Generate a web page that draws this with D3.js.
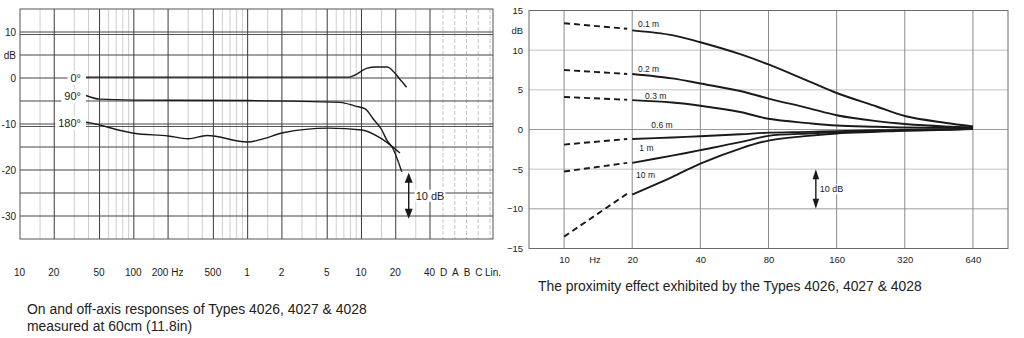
<!DOCTYPE html>
<html><head><meta charset="utf-8">
<script src="https://cdn.jsdelivr.net/npm/d3@7"></script>
<style>
body{margin:0;background:#fff}
svg{font-family:"Liberation Sans",Arial,Helvetica,sans-serif;display:block}
</style>
</head><body>
<svg id="c" width="1024" height="338"></svg>
<script>
// ---------- LEFT CHART DATA ----------
const leftFreqTicks = [10, 20, 50, 100, 200, 500, 1000, 2000, 5000, 10000, 20000, 40000];
const leftFreqLabels = ["10", "20", "50", "100", "200 Hz", "500", "1", "2", "5", "10", "20", "40"];
const leftExtraLabels = ["D", "A", "B", "C", "Lin."];
const leftMajorGrid = [20, 50, 100, 200, 500, 1000, 2000, 5000, 10000, 20000, 40000];
const leftMinorGrid = [15, 30, 40, 60, 70, 80, 90, 150, 300, 400, 600, 700, 800, 900,
                       1500, 3000, 4000, 6000, 7000, 8000, 9000, 15000, 30000];
const leftDbTicks = [10, 5, 0, -10, -20, -30];
const leftDbGrid = [10, 5, 0, -5, -10, -15, -20, -25, -30];
const leftDoubleGrid = [10, -10];

const resp0Freq = [38, 1000, 7800, 8700, 10000, 11100, 13400, 16900, 18600, 21500, 24900];
const resp0Db   = [0.2, 0.2, 0.2, 0.6, 1.5, 2.1, 2.4, 2.4, 1.7, -0.1, -2.0];
const resp90Freq = [38, 50, 100, 1000, 6500, 8800, 10800, 12600, 15100, 16700, 18600, 22600];
const resp90Db   = [-3.8, -4.6, -4.8, -4.9, -5.3, -6.1, -6.7, -8.8, -11.3, -13.5, -15.0, -20.4];
const resp180Freq = [38, 50, 70, 100, 200, 300, 440, 1000, 1290, 2050, 5100, 10100, 14600, 21800];
const resp180Db   = [-9.6, -10.2, -11.2, -12.0, -12.6, -13.2, -12.5, -13.9, -13.4, -11.9, -10.9, -11.3, -13.0, -16.3];
const respLabels = ["0°", "90°", "180°"];
const respLabelDb = [0, -4.0, -9.8];

// ---------- RIGHT CHART DATA ----------
const proxFreqTicks = [10, 20, 40, 80, 160, 320, 640];
const proxDbTicks = [15, 10, 5, 0, -5, -10, -15];
const proxDistances = ["0.1 m", "0.2 m", "0.3 m", "0.6 m", "1 m", "10 m"];
const proxFreq = [20, 30, 40, 60, 80, 120, 160, 240, 320, 480, 640];
const prox01 = [12.5, 11.9, 11.0, 9.5, 8.2, 6.1, 4.6, 2.9, 1.7, 0.85, 0.4];
const prox02 = [7.0, 6.45, 5.8, 4.85, 3.9, 2.7, 1.8, 1.05, 0.7, 0.4, 0.3];
const prox03 = [3.7, 3.4, 3.0, 2.2, 1.35, 0.8, 0.5, 0.35, 0.25, 0.2, 0.2];
const prox06 = [-1.2, -1.0, -0.85, -0.6, -0.4, -0.3, -0.2, -0.1, -0.05, 0.0, 0.1];
const prox1  = [-4.2, -3.3, -2.6, -1.6, -0.8, -0.5, -0.35, -0.2, -0.1, 0.0, 0.1];
const prox10 = [-8.2, -6.0, -4.3, -2.4, -1.4, -0.8, -0.5, -0.3, -0.15, -0.05, 0.05];
const proxAt10Hz = [13.4, 7.5, 4.1, -1.9, -5.3, -13.5];
const proxAt20Hz = [12.7, 7.0, 3.75, -1.2, -4.2, -8.1];
const proxLabelFreq = [21.2, 21.2, 22.8, 24.3, 21.5, 20.8];
const proxLabelDb = [12.9, 7.3, 3.85, 0.2, -2.7, -6.1];

const svg = d3.select("#c");
const ink = "#1a1a1a";

// =============== LEFT CHART ===============
const L = {left: 20, right: 493, top: 9, bottom: 239};
const xL = d3.scaleLog().domain([10, 40000]).range([20, 430]);
const xLx = d3.scalePoint().domain(leftExtraLabels).range([443, 490]);
const yL = d3.scaleLinear().domain([-35, 15]).range([L.bottom, L.top]);
const gL = svg.append("g");

gL.selectAll(".mn").data(leftMinorGrid).join("line")
  .attr("x1", d => xL(d)).attr("x2", d => xL(d))
  .attr("y1", L.top).attr("y2", L.bottom)
  .attr("stroke", "#cfcfcf").attr("stroke-width", 1);
gL.selectAll(".dx").data(leftExtraLabels).join("line")
  .attr("x1", d => xLx(d)).attr("x2", d => xLx(d))
  .attr("y1", L.top).attr("y2", L.bottom)
  .attr("stroke", "#c4c4c4").attr("stroke-width", 1).attr("stroke-dasharray", "4,2");
gL.selectAll(".hg").data(leftDbGrid).join("line")
  .attr("x1", L.left).attr("x2", L.right)
  .attr("y1", d => yL(d)).attr("y2", d => yL(d))
  .attr("stroke", "#444").attr("stroke-width", 1);
gL.selectAll(".hg2").data(leftDoubleGrid).join("line")
  .attr("x1", L.left).attr("x2", L.right)
  .attr("y1", d => yL(d) + 2.5).attr("y2", d => yL(d) + 2.5)
  .attr("stroke", "#555").attr("stroke-width", 1);
gL.selectAll(".mj").data(leftMajorGrid).join("line")
  .attr("x1", d => xL(d)).attr("x2", d => xL(d))
  .attr("y1", L.top).attr("y2", L.bottom)
  .attr("stroke", "#3c3c3c").attr("stroke-width", 1);
gL.append("rect").attr("x", L.left).attr("y", L.top)
  .attr("width", L.right - L.left).attr("height", L.bottom - L.top)
  .attr("fill", "none").attr("stroke", "#555").attr("stroke-width", 1);

const yAxL = d3.axisLeft(yL).tickValues(leftDbTicks).tickSize(0).tickPadding(4)
  .tickFormat(d => d === 5 ? "dB" : String(d));
gL.append("g").attr("transform", `translate(${L.left},0)`).call(yAxL)
  .call(g => g.select(".domain").remove())
  .call(g => g.selectAll("text").attr("font-size", 10).attr("fill", ink).attr("font-family", null));

const xAxL = d3.axisBottom(xL).tickValues(leftFreqTicks).tickSize(0)
  .tickFormat((d, i) => leftFreqLabels[i]);
gL.append("g").attr("transform", `translate(-1,276)`).call(xAxL)
  .call(g => g.select(".domain").remove())
  .call(g => g.selectAll("text").attr("y", 0).attr("dy", 0).attr("font-size", 10).attr("fill", ink).attr("font-family", null));
const xAxLx = d3.axisBottom(xLx).tickSize(0);
gL.append("g").attr("transform", `translate(0,276)`).call(xAxLx)
  .call(g => g.select(".domain").remove())
  .call(g => g.selectAll("text").attr("y", 0).attr("dy", 0).attr("font-size", 10).attr("fill", ink).attr("font-family", null)
    .attr("dx", d => d === "Lin." ? 2.5 : 0));

const lineL = d3.line().x(d => xL(d[0])).y(d => yL(d[1])).curve(d3.curveMonotoneX);
const leftSeries = [
  d3.zip(resp0Freq, resp0Db),
  d3.zip(resp90Freq, resp90Db),
  d3.zip(resp180Freq, resp180Db)
];
respLabels.forEach((t, i) => {
  const lg = gL.append("g");
  const txt = lg.append("text").attr("x", 81).attr("y", yL(respLabelDb[i]))
    .attr("dy", "0.36em").attr("text-anchor", "end")
    .attr("font-size", 11).attr("fill", ink).text(t);
  const bb = txt.node().getBBox();
  lg.insert("rect", "text").attr("x", bb.x - 3).attr("y", bb.y - 1)
    .attr("width", xL(resp0Freq[0]) - bb.x + 3).attr("height", bb.height + 2)
    .attr("fill", "#fff");
});
gL.selectAll(".crv").data(leftSeries).join("path")
  .attr("d", lineL).attr("fill", "none").attr("stroke", ink).attr("stroke-width", 1.4);

function arrow(g, x, y1, y2, hw, hl) {
  g.append("line").attr("x1", x).attr("x2", x).attr("y1", y1 + hl - 1).attr("y2", y2 - hl + 1)
    .attr("stroke", ink).attr("stroke-width", 1.4);
  g.append("path").attr("d", `M${x},${y1}L${x - hw / 2},${y1 + hl}L${x + hw / 2},${y1 + hl}Z`).attr("fill", ink);
  g.append("path").attr("d", `M${x},${y2}L${x - hw / 2},${y2 - hl}L${x + hw / 2},${y2 - hl}Z`).attr("fill", ink);
}
arrow(gL, xL(26000), yL(-20.6), yL(-30.6), 8, 10);
{
  const lg = gL.append("g");
  const t = lg.append("text").attr("x", xL(26000) + 7).attr("y", yL(-25.6)).attr("dy", "0.36em")
    .attr("font-size", 11).attr("fill", ink).text("10 dB");
  const bb = t.node().getBBox();
  lg.insert("rect", "text").attr("x", bb.x - 1).attr("y", bb.y).attr("width", bb.width + 2)
    .attr("height", bb.height).attr("fill", "#fff");
}

function fitText(sel, target) {
  const w = sel.node().getComputedTextLength();
  const fs = parseFloat(sel.attr("font-size"));
  sel.attr("font-size", (fs * target / w).toFixed(2));
  return fs * target / w;
}
const cap1 = svg.append("text").attr("x", 27).attr("y", 314).attr("font-size", 14).attr("fill", "#222")
  .text("On and off-axis responses of Types 4026, 4027 & 4028");
const fs1 = fitText(cap1, 340);
svg.append("text").attr("x", 27).attr("y", 331).attr("font-size", fs1.toFixed(2)).attr("fill", "#222")
  .text("measured at 60cm (11.8in)");

// =============== RIGHT CHART ===============
const R = {left: 529, right: 1008, top: 10.5, bottom: 248.5};
const xR = d3.scaleLog().base(2).domain([10 / Math.SQRT2, 640 * Math.SQRT2]).range([530, 1007]);
const yR = d3.scaleLinear().domain([-15, 15]).range([R.bottom, R.top]);
const gR = svg.append("g");

gR.selectAll(".hg").data(proxDbTicks.filter(d => Math.abs(d) < 15)).join("line")
  .attr("x1", R.left).attr("x2", R.right)
  .attr("y1", d => yR(d)).attr("y2", d => yR(d))
  .attr("stroke", d => (d === 0 || d === -10) ? "#9a9a9a" : "#c2c2c2").attr("stroke-width", 1);
gR.selectAll(".vg").data(proxFreqTicks).join("line")
  .attr("x1", d => xR(d)).attr("x2", d => xR(d))
  .attr("y1", R.top).attr("y2", R.bottom)
  .attr("stroke", "#8a8a8a").attr("stroke-width", 1);
gR.append("rect").attr("x", R.left).attr("y", R.top)
  .attr("width", R.right - R.left).attr("height", R.bottom - R.top)
  .attr("fill", "none").attr("stroke", "#6a6a6a").attr("stroke-width", 1);

const yAxR = d3.axisLeft(yR).tickValues(proxDbTicks).tickSize(0).tickPadding(6);
gR.append("g").attr("transform", `translate(${R.left},0)`).call(yAxR)
  .call(g => g.select(".domain").remove())
  .call(g => g.selectAll("text").attr("font-size", 9.5).attr("fill", ink).attr("font-family", null));
gR.append("text").attr("x", R.left - 6).attr("y", yR(12.5)).attr("dy", "0.36em")
  .attr("text-anchor", "end").attr("font-size", 9.5).attr("fill", ink).text("dB");

const xAxR = d3.axisBottom(xR).tickValues(proxFreqTicks).tickSize(0).tickFormat(d3.format("d"));
gR.append("g").attr("transform", `translate(0,263)`).call(xAxR)
  .call(g => g.select(".domain").remove())
  .call(g => g.selectAll("text").attr("y", 0).attr("dy", 0).attr("font-size", 9.5).attr("fill", ink).attr("font-family", null));
gR.append("text").attr("x", xR(13.7)).attr("y", 263).attr("text-anchor", "middle")
  .attr("font-size", 9.5).attr("fill", ink).text("Hz");

const proxSeries = [prox01, prox02, prox03, prox06, prox1, prox10];
const lineR = d3.line().x(d => xR(d[0])).y(d => yR(d[1])).curve(d3.curveCatmullRom.alpha(0.5));
gR.selectAll(".solid").data(proxSeries).join("path")
  .attr("d", s => lineR(d3.zip(proxFreq, s)))
  .attr("fill", "none").attr("stroke", ink).attr("stroke-width", 1.9);
gR.selectAll(".dash").data(proxDistances).join("line")
  .attr("x1", (d, i) => xR(10)).attr("y1", (d, i) => yR(proxAt10Hz[i]))
  .attr("x2", (d, i) => xR(19)).attr("y2", (d, i) => yR(proxAt20Hz[i]))
  .attr("stroke", ink).attr("stroke-width", 1.9).attr("stroke-dasharray", "6,4");
gR.selectAll(".dl").data(proxDistances).join("text")
  .attr("x", (d, i) => xR(proxLabelFreq[i])).attr("y", (d, i) => yR(proxLabelDb[i]))
  .attr("font-size", 8.5).attr("fill", ink).text(d => d);

arrow(gR, xR(129.5), yR(-5), yR(-10), 6.5, 10);
{
  const lg = gR.append("g");
  const t = lg.append("text").attr("x", xR(129.5) + 4).attr("y", yR(-7.5)).attr("dy", "0.36em")
    .attr("font-size", 9).attr("fill", ink).text("10 dB");
  const bb = t.node().getBBox();
  lg.insert("rect", "text").attr("x", bb.x - 1).attr("y", bb.y).attr("width", bb.width + 2)
    .attr("height", bb.height).attr("fill", "#fff");
}

const cap2 = svg.append("text").attr("x", 538).attr("y", 291).attr("font-size", 14).attr("fill", "#222")
  .text("The proximity effect exhibited by the Types 4026, 4027 & 4028");
fitText(cap2, 384);
</script>
</body></html>
